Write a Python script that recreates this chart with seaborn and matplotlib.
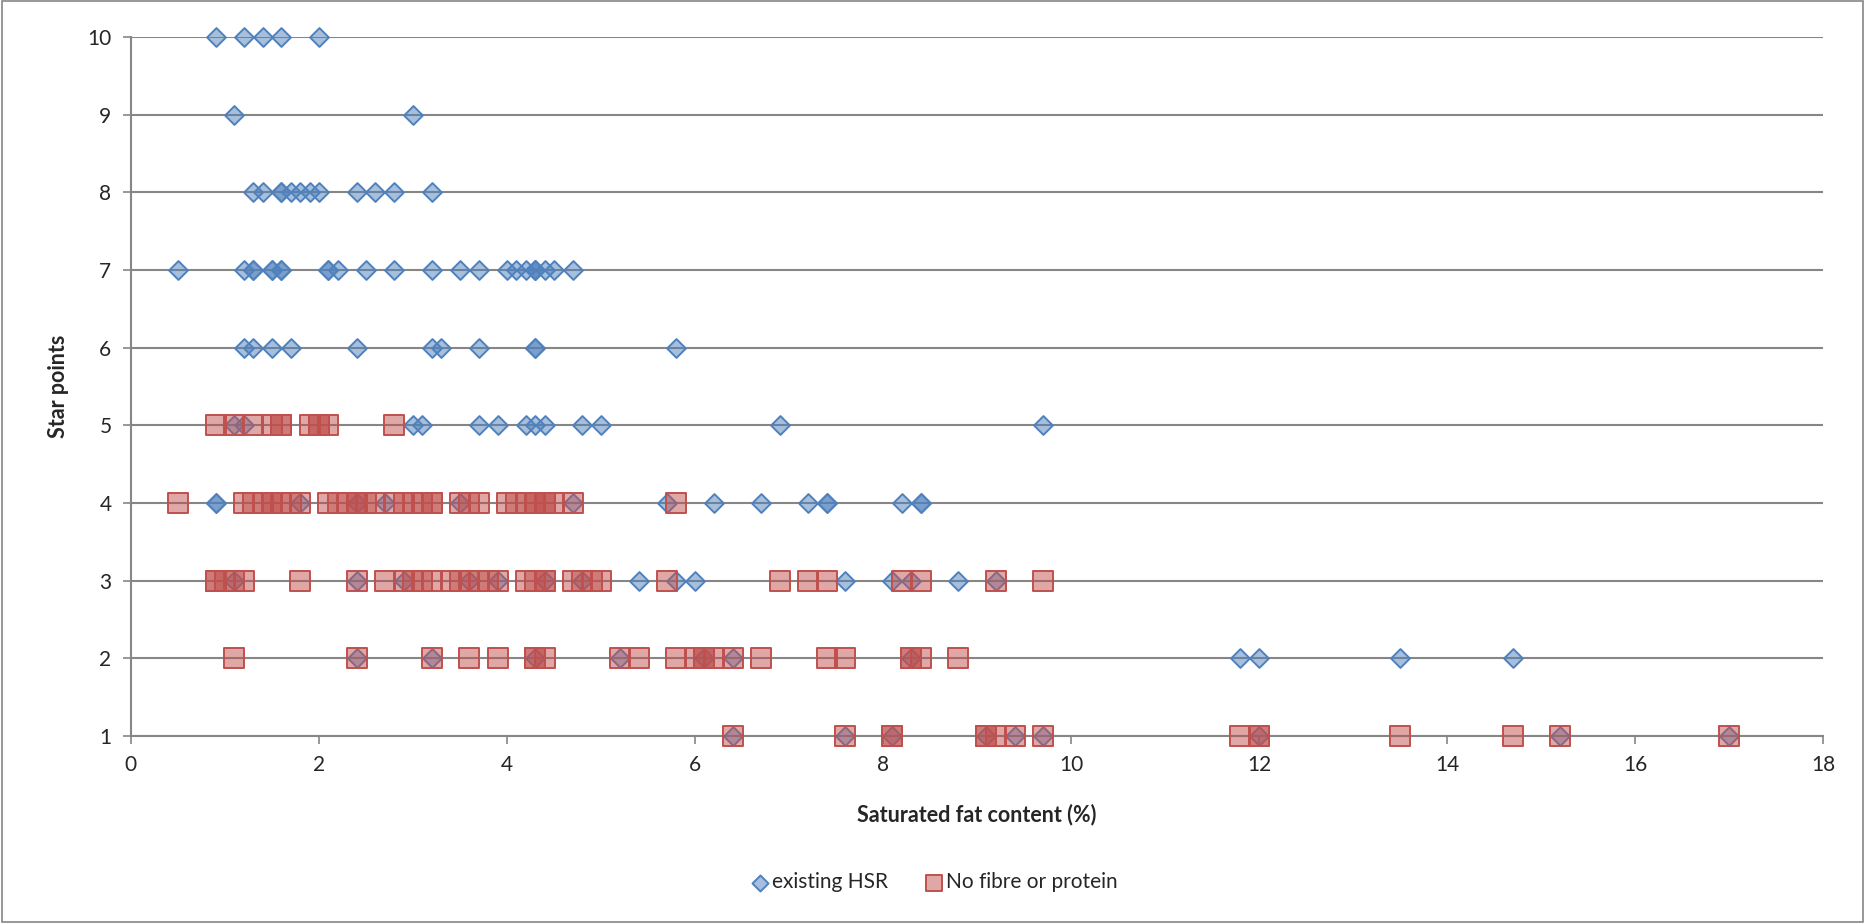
# HSR star points vs saturated fat - scatter recreation

import pandas as pd
import matplotlib
matplotlib.use("Agg")
import matplotlib.pyplot as plt
import seaborn as sns
from matplotlib.patches import Rectangle

# DATA (saturated fat %, one list per star-point row)

stars = [10, 9, 8, 7, 6, 5, 4, 3, 2, 1]

hsr_10 = [0.9, 1.2, 1.4, 1.6, 2.0]
hsr_9 = [1.1, 3.0]
hsr_8 = [1.3, 1.4, 1.6, 1.6, 1.7, 1.8, 1.9, 2.0, 2.4, 2.6, 2.8, 3.2]
hsr_7 = [0.5, 1.2, 1.3, 1.3, 1.5, 1.5, 1.6, 1.6, 2.1, 2.1, 2.2, 2.5, 2.8,
         3.2, 3.5, 3.7, 4.0, 4.1, 4.2, 4.3, 4.3, 4.3, 4.4, 4.5, 4.7]
hsr_6 = [1.2, 1.3, 1.5, 1.7, 2.4, 3.2, 3.3, 3.7, 4.3, 4.3, 5.8]
hsr_5 = [1.1, 1.2, 3.0, 3.1, 3.7, 3.9, 4.2, 4.3, 4.4, 4.8, 5.0, 6.9, 9.7]
hsr_4 = [0.9, 0.9, 1.8, 2.4, 2.7, 3.5, 4.7, 5.7, 6.2, 6.7, 7.2, 7.4, 7.4,
         8.2, 8.4, 8.4]
hsr_3 = [1.1, 2.4, 2.9, 3.6, 3.9, 4.4, 4.8, 5.4, 5.8, 6.0, 7.6, 8.1, 8.3,
         8.8, 9.2]
hsr_2 = [2.4, 3.2, 4.3, 5.2, 6.1, 6.4, 8.3, 11.8, 12.0, 13.5, 14.7]
hsr_1 = [6.4, 7.6, 8.1, 9.1, 9.4, 9.7, 12.0, 15.2, 17.0]

nfp_10 = []
nfp_9 = []
nfp_8 = []
nfp_7 = []
nfp_6 = []
nfp_5 = [0.9, 1.1, 1.3, 1.5, 1.6, 1.6, 1.9, 2.0, 2.0, 2.1, 2.8]
nfp_4 = [0.5, 1.2, 1.3, 1.4, 1.5, 1.5, 1.6, 1.7, 1.8, 2.1, 2.2, 2.3, 2.4,
         2.4, 2.5, 2.6, 2.8, 2.9, 3.0, 3.1, 3.2, 3.2, 3.5, 3.6, 3.7, 4.0,
         4.1, 4.2, 4.3, 4.3, 4.4, 4.4, 4.5, 4.7, 5.8]
nfp_3 = [0.9, 0.9, 1.0, 1.1, 1.2, 1.8, 2.4, 2.7, 2.9, 3.0, 3.1, 3.2, 3.4,
         3.5, 3.6, 3.7, 3.8, 3.9, 4.2, 4.3, 4.4, 4.4, 4.7, 4.8, 4.9, 5.0,
         5.7, 6.9, 7.2, 7.4, 8.2, 8.4, 9.2, 9.7]
nfp_2 = [1.1, 2.4, 3.2, 3.6, 3.9, 4.3, 4.3, 4.4, 5.2, 5.4, 5.8, 6.0, 6.1,
         6.1, 6.2, 6.4, 6.7, 7.4, 7.6, 8.3, 8.3, 8.4, 8.8]
nfp_1 = [6.4, 7.6, 8.1, 8.1, 9.1, 9.1, 9.2, 9.4, 9.7, 11.8, 12.0, 12.0,
         13.5, 14.7, 15.2, 17.0]

hsr_rows = [hsr_10, hsr_9, hsr_8, hsr_7, hsr_6, hsr_5, hsr_4, hsr_3, hsr_2, hsr_1]
nfp_rows = [nfp_10, nfp_9, nfp_8, nfp_7, nfp_6, nfp_5, nfp_4, nfp_3, nfp_2, nfp_1]

x_ticks = [0, 2, 4, 6, 8, 10, 12, 14, 16, 18]
y_ticks = [1, 2, 3, 4, 5, 6, 7, 8, 9, 10]


def to_frame(rows):
    recs = []
    for s, vals in zip(stars, rows):
        for v in vals:
            recs.append({"fat": v, "stars": s})
    return pd.DataFrame(recs)


hsr = to_frame(hsr_rows)
nfp = to_frame(nfp_rows)

# PLOT
sns.set_style("white")
plt.rcParams["font.family"] = ["Lato", "DejaVu Sans"]

grey = "#868686"
blue_edge = "#4F81BD"
red_edge = "#C0504D"

fig = plt.figure(figsize=(18.65, 9.23), dpi=100)
ax = fig.add_axes([0.0702, 0.2026, 0.9073, 0.7574])

sns.scatterplot(
    data=hsr, x="fat", y="stars", ax=ax,
    marker="D", s=92, color=(0.31, 0.506, 0.741, 0.5),
    edgecolor=blue_edge, linewidth=1.4, clip_on=False, zorder=3,
    label="existing HSR"
)
sns.scatterplot(
    data=nfp, x="fat", y="stars", ax=ax,
    marker="s", s=190, color=(0.753, 0.314, 0.302, 0.5),
    edgecolor=red_edge, linewidth=1.4, clip_on=False, zorder=4,
    label="No fibre or protein"
)

ax.set_xlim(0, 18)
ax.set_ylim(1, 10)
ax.set_xticks(x_ticks)
ax.set_yticks(y_ticks)
ax.yaxis.grid(True, color=grey, linewidth=1.5)
ax.xaxis.grid(False)
ax.set_axisbelow(True)

for side in ["top", "right"]:
    ax.spines[side].set_visible(False)
for side in ["left", "bottom"]:
    ax.spines[side].set_color(grey)
    ax.spines[side].set_linewidth(1.5)

ax.tick_params(axis="both", which="major", length=6, width=1.2, color=grey,
               direction="out", labelsize=15, pad=8, bottom=True, left=True)

ax.set_xlabel("Saturated fat content (%)", fontsize=15.5, fontweight="bold",
              labelpad=20)
ax.set_ylabel("Star points", fontsize=15.5, fontweight="bold", labelpad=13)

leg = ax.legend(
    loc="center", bbox_to_anchor=(0.5, 0.044), bbox_transform=fig.transFigure,
    ncol=2, frameon=False, fontsize=15, handletextpad=0.0,
    handlelength=1.2, columnspacing=1.6, borderaxespad=0, markerscale=0.85
)

# chart area border
fig.patches.append(Rectangle((0.001, 0.001), 0.998, 0.998, transform=fig.transFigure,
                             fill=False, edgecolor=grey, linewidth=1.2))

fig.savefig("out.png", dpi=100)
